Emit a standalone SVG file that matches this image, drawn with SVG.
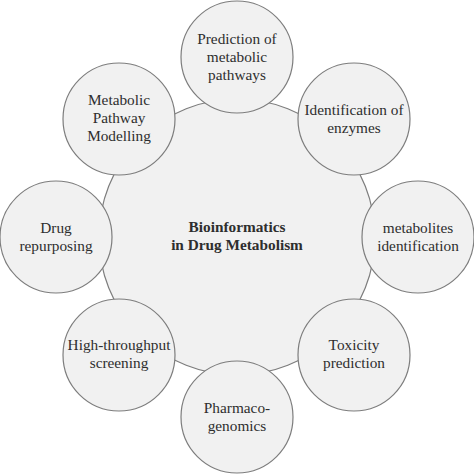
<svg xmlns="http://www.w3.org/2000/svg" width="474" height="474" viewBox="0 0 474 474">
<style>
.c{fill:#f1f1f1;stroke:#7d7d7d;stroke-width:1.2}
.b{font-weight:bold}
</style>
<rect width="474" height="474" fill="#ffffff"/>
<g font-family="Liberation Serif, Times New Roman, Times, DejaVu Serif, serif" font-size="15.3" fill="#2e2e2e" text-anchor="middle">
<g id="center">
<circle class="c" cx="237" cy="237" r="138"/>
<text class="b" x="237" y="232">Bioinformatics</text>
<text class="b" x="237" y="250">in Drug Metabolism</text>
</g>
<g id="connectors"></g>
<g id="n-prediction">
<circle class="c" cx="237" cy="57" r="56"/>
<text x="237" y="44">Prediction of</text>
<text x="237" y="62">metabolic</text>
<text x="237" y="80">pathways</text>
</g>
<g id="n-enzymes">
<circle class="c" cx="354" cy="119" r="56"/>
<text x="354" y="115">Identification of</text>
<text x="354" y="133">enzymes</text>
</g>
<g id="n-metabolites">
<circle class="c" cx="418" cy="237" r="56"/>
<text x="418" y="233">metabolites</text>
<text x="418" y="251">identification</text>
</g>
<g id="n-toxicity">
<circle class="c" cx="354" cy="355" r="56"/>
<text x="354" y="350">Toxicity</text>
<text x="354" y="368">prediction</text>
</g>
<g id="n-pharmaco">
<circle class="c" cx="237" cy="417" r="56"/>
<text x="237" y="413">Pharmaco-</text>
<text x="237" y="431">genomics</text>
</g>
<g id="n-htp">
<circle class="c" cx="119" cy="355" r="56"/>
<text x="119" y="350">High-throughput</text>
<text x="119" y="368">screening</text>
</g>
<g id="n-repurposing">
<circle class="c" cx="56" cy="237" r="56"/>
<text x="56" y="233">Drug</text>
<text x="56" y="251">repurposing</text>
</g>
<g id="n-modelling">
<circle class="c" cx="119" cy="119" r="56"/>
<text x="119" y="105">Metabolic</text>
<text x="119" y="123">Pathway</text>
<text x="119" y="141">Modelling</text>
</g>
</g>
</svg>
